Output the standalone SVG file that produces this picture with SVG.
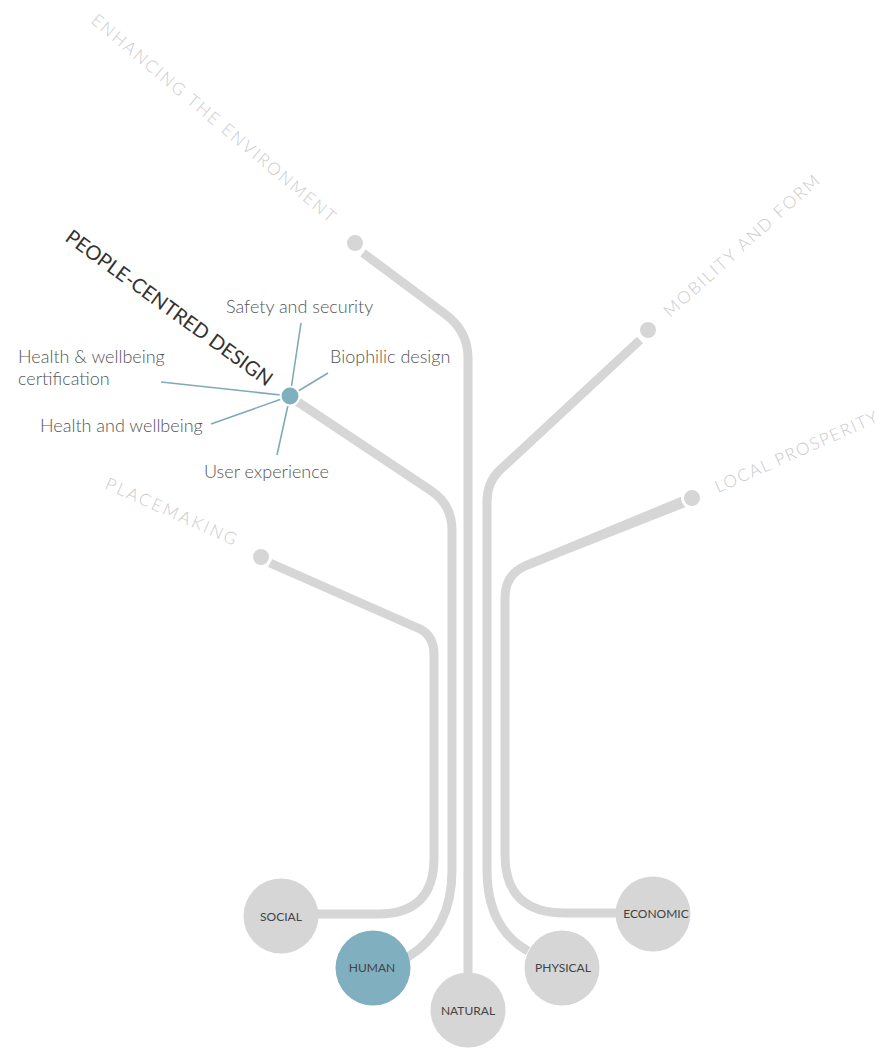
<svg xmlns="http://www.w3.org/2000/svg" width="887" height="1050" viewBox="0 0 887 1050">
  <style>
    .branch { fill: none; stroke: #d6d6d6; stroke-width: 9; }
    .spoke { fill: none; stroke: #7eaabb; stroke-width: 1.6; }
    .dot { fill: #d6d6d6; stroke: #ffffff; stroke-width: 3; }
    .theme { font-family: Lato, "Liberation Sans", sans-serif; font-weight: 300; font-size: 17px; fill: #cacaca; letter-spacing: 2px; }
    .focus { font-family: Lato, "Liberation Sans", sans-serif; font-weight: 400; font-size: 20px; fill: #333333; }
    .item { font-family: Lato, "Liberation Sans", sans-serif; font-weight: 300; font-size: 18px; fill: #555555; }
    .capital { stroke: none; }
    .capital-label { font-family: Lato, "Liberation Sans", sans-serif; font-weight: 400; font-size: 12px; fill: #444444; text-anchor: middle; }
  </style>

  <!-- connectors: each theme branch runs down into its capital -->
  <g id="connectors">
    <path class="branch" d="M363,253 L445,314 Q468,331 468,358 L468,975"/>
    <path class="branch" d="M298,402 L430,490 Q452,504 452,530 L452,870 Q452,930 408,957"/>
    <path class="branch" d="M270,563 L420,629 Q434,636 434,655 L434,858 Q434,914 378,914 L316,914"/>
    <path class="branch" d="M640,340 L500,470 Q487,482 487,502 L487,870 Q487,928 528,951"/>
    <path class="branch" d="M685,501 L525,566 Q505,575 505,598 L505,855 Q505,913 565,913 L618,913"/>
    <!-- the prosperity branch widens slightly towards its end point -->
    <polygon fill="#d6d6d6" points="685.8,494.7 690.2,505.3 571,552.2 567.6,543.8"/>
  </g>

  <!-- theme end points and labels -->
  <g id="theme-enhancing">
    <circle class="dot" cx="355" cy="243" r="9.5"/>
    <text class="theme" transform="translate(90,22) rotate(40)">ENHANCING THE ENVIRONMENT</text>
  </g>
  <g id="theme-mobility">
    <circle class="dot" cx="648" cy="330" r="9.5"/>
    <text class="theme" transform="translate(670,318) rotate(-42)">MOBILITY AND FORM</text>
  </g>
  <g id="theme-prosperity">
    <circle class="dot" cx="692" cy="498" r="9.5"/>
    <text class="theme" style="letter-spacing:1.5px" transform="translate(718,493) rotate(-24)">LOCAL PROSPERITY</text>
  </g>
  <g id="theme-placemaking">
    <circle class="dot" cx="261" cy="557" r="9.5"/>
    <text class="theme" style="letter-spacing:2.4px" transform="translate(104,488) rotate(24)">PLACEMAKING</text>
  </g>

  <!-- focus theme with its sub-topics -->
  <g id="theme-people">
    <text class="focus" transform="translate(64,240) rotate(36)">PEOPLE-CENTRED DESIGN</text>
    <line class="spoke" x1="290" y1="396" x2="301" y2="323"/>
    <line class="spoke" x1="290" y1="396" x2="328" y2="373"/>
    <line class="spoke" x1="290" y1="396" x2="161" y2="382"/>
    <line class="spoke" x1="290" y1="396" x2="211" y2="424"/>
    <line class="spoke" x1="290" y1="396" x2="277" y2="455"/>
    <circle cx="290" cy="396" r="9.5" fill="#7fb0c0" stroke="#ffffff" stroke-width="2"/>
    <text class="item" x="226" y="313">Safety and security</text>
    <text class="item" x="330" y="363">Biophilic design</text>
    <text class="item" x="18" y="363">Health &amp; wellbeing</text>
    <text class="item" x="18" y="385">certification</text>
    <text class="item" x="40" y="432">Health and wellbeing</text>
    <text class="item" x="204" y="478">User experience</text>
  </g>

  <!-- capitals -->
  <g id="capital-social">
    <circle class="capital" cx="281" cy="916" r="37.5" fill="#d6d6d6"/>
    <text class="capital-label" x="281" y="921">SOCIAL</text>
  </g>
  <g id="capital-human">
    <circle class="capital" cx="373" cy="968" r="37.5" fill="#80afc0"/>
    <text class="capital-label" x="372" y="972">HUMAN</text>
  </g>
  <g id="capital-natural">
    <circle class="capital" cx="468" cy="1010" r="37.5" fill="#d6d6d6"/>
    <text class="capital-label" x="468" y="1015">NATURAL</text>
  </g>
  <g id="capital-physical">
    <circle class="capital" cx="562" cy="968" r="37.5" fill="#d6d6d6"/>
    <text class="capital-label" x="563" y="972">PHYSICAL</text>
  </g>
  <g id="capital-economic">
    <circle class="capital" cx="653" cy="914" r="37.5" fill="#d6d6d6"/>
    <text class="capital-label" x="656" y="918">ECONOMIC</text>
  </g>
</svg>
